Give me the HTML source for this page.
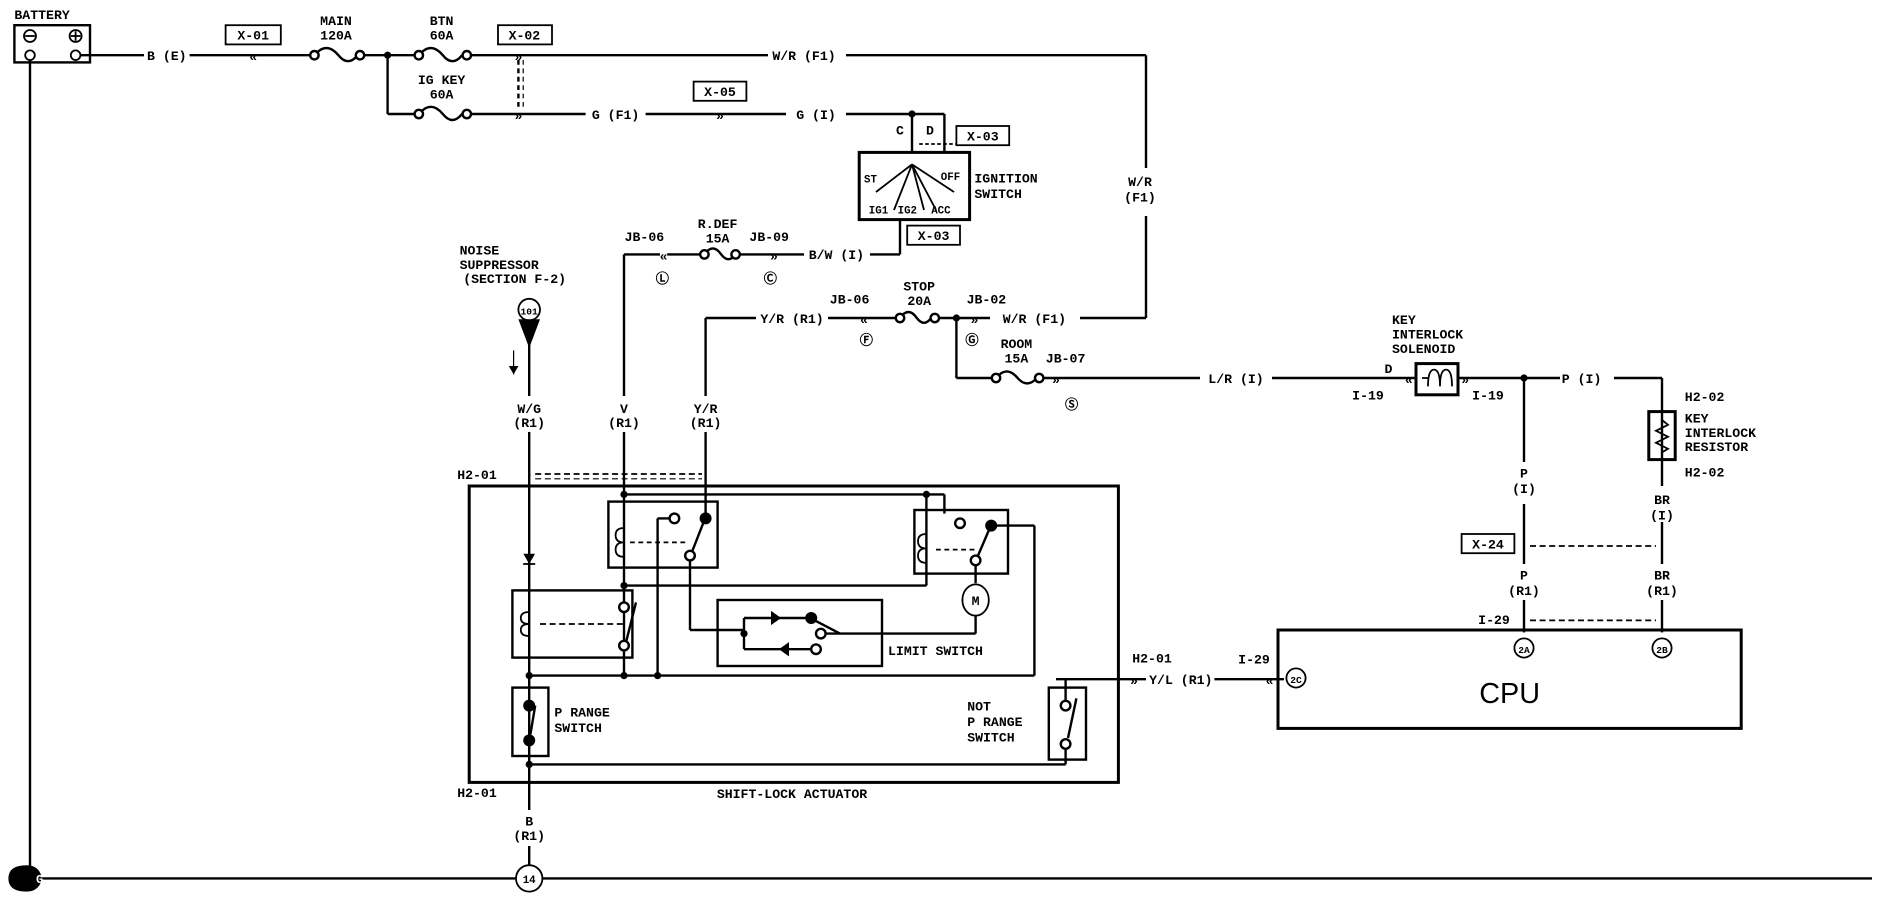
<!DOCTYPE html>
<html><head><meta charset="utf-8"><style>
html,body{margin:0;padding:0;background:#fff;}
svg{display:block;}
text{font-family:"Liberation Mono",monospace;font-size:11px;fill:#000;font-weight:bold;}
.c{text-anchor:middle;}
</style></head><body>
<svg width="1884" height="912" viewBox="0 0 1570 760" xmlns="http://www.w3.org/2000/svg">
<g stroke="#000" stroke-width="2" fill="none">
<rect x="12" y="21" width="63" height="31"/>
<circle cx="25" cy="30" r="5" stroke-width="1.5"/><circle cx="63" cy="30" r="5" stroke-width="1.5"/>
<circle cx="25" cy="46" r="4" stroke-width="1.5"/><circle cx="63" cy="46" r="4" stroke-width="1.5"/>
<line x1="21" y1="30" x2="29" y2="30" stroke-width="1.5"/><line x1="59" y1="30" x2="67" y2="30" stroke-width="1.5"/><line x1="63" y1="26" x2="63" y2="34" stroke-width="1.5"/>
<line x1="25" y1="50" x2="25" y2="732"/>
<line x1="25" y1="732" x2="1560" y2="732"/>
<polyline points="67,46 120,46"/><polyline points="158,46 258,46"/>
<path d="M258,46 m4,0 q10,-12 20,0 q8,10 16,0"/>
<circle cx="262" cy="46" r="3.5" fill="#fff"/><circle cx="300" cy="46" r="3.5" fill="#fff"/>
<line x1="304" y1="46" x2="345" y2="46"/>
<path d="M349,46 q10,-12 20,0 q8,10 16,0"/>
<circle cx="349" cy="46" r="3.5" fill="#fff"/><circle cx="389" cy="46" r="3.5" fill="#fff"/>
<line x1="393" y1="46" x2="640" y2="46"/><line x1="705" y1="46" x2="955" y2="46"/>
<line x1="955" y1="46" x2="955" y2="140"/><line x1="955" y1="180" x2="955" y2="265"/>
<line x1="323" y1="46" x2="323" y2="95"/><line x1="323" y1="95" x2="345" y2="95"/>
<path d="M349,95 q10,-12 20,0 q8,10 16,0"/>
<circle cx="349" cy="95" r="3.5" fill="#fff"/><circle cx="389" cy="95" r="3.5" fill="#fff"/>
<line x1="393" y1="95" x2="488" y2="95"/><line x1="538" y1="95" x2="655" y2="95"/><line x1="705" y1="95" x2="760" y2="95"/>
<line x1="432" y1="50" x2="432" y2="90" stroke-dasharray="4,3"/><line x1="436" y1="50" x2="436" y2="90" stroke-dasharray="4,3" stroke-width="1"/>
<rect x="188" y="21" width="46" height="16" stroke-width="1.5"/>
<rect x="415" y="21" width="45" height="16" stroke-width="1.5"/>
<rect x="578" y="68" width="44" height="16" stroke-width="1.5"/>
<rect x="797" y="105" width="44" height="16" stroke-width="1.5"/>
<rect x="756" y="188" width="44" height="16" stroke-width="1.5"/>
<rect x="1218" y="445" width="44" height="16" stroke-width="1.5"/>
<line x1="760" y1="95" x2="760" y2="127"/><line x1="760" y1="95" x2="787" y2="95"/><line x1="787" y1="95" x2="787" y2="127"/>
<line x1="766" y1="120" x2="797" y2="120" stroke-dasharray="3,2" stroke-width="1.5"/>
<rect x="716" y="127" width="92" height="56" stroke-width="2.5"/>
<path d="M760,137 L730,160 M760,137 L745,175 M760,137 L770,175 M760,137 L795,160 M760,137 L780,175" stroke-width="1.5"/>
<line x1="750" y1="183" x2="750" y2="212"/><line x1="520" y1="212" x2="550" y2="212"/>
<line x1="556" y1="212" x2="584" y2="212"/><path d="M587,212 q7,-10 14,0 q6,8 12,0"/>
<circle cx="587" cy="212" r="3.5" fill="#fff"/><circle cx="613" cy="212" r="3.5" fill="#fff"/>
<line x1="617" y1="212" x2="670" y2="212"/><line x1="725" y1="212" x2="750" y2="212"/>
<line x1="520" y1="212" x2="520" y2="330"/><line x1="520" y1="360" x2="520" y2="395"/>
<line x1="588" y1="265" x2="630" y2="265"/><line x1="588" y1="265" x2="588" y2="330"/><line x1="588" y1="360" x2="588" y2="395"/>
<line x1="690" y1="265" x2="747" y2="265"/><path d="M750,265 q7,-10 14,0 q6,8 12,0"/>
<circle cx="750" cy="265" r="3.5" fill="#fff"/><circle cx="779" cy="265" r="3.5" fill="#fff"/>
<line x1="783" y1="265" x2="825" y2="265"/><line x1="900" y1="265" x2="955" y2="265"/>
<line x1="797" y1="265" x2="797" y2="315"/><line x1="797" y1="315" x2="826" y2="315"/>
<path d="M830,315 q9,-11 18,0 q8,9 16,0"/><circle cx="830" cy="315" r="3.5" fill="#fff"/><circle cx="866" cy="315" r="3.5" fill="#fff"/>
<line x1="870" y1="315" x2="1000" y2="315"/><line x1="1060" y1="315" x2="1180" y2="315"/>
<rect x="1180" y="303" width="35" height="26" stroke-width="2.5"/>
<path d="M1185,315 L1190,315 M1190,322 q0,-14 5,-14 q5,0 5,14 M1200,322 q0,-14 5,-14 q5,0 5,14" stroke-width="1.5"/>
<line x1="1215" y1="315" x2="1300" y2="315"/><line x1="1345" y1="315" x2="1385" y2="315"/>
<line x1="1385" y1="315" x2="1385" y2="405"/><line x1="1385" y1="435" x2="1385" y2="470"/><line x1="1385" y1="500" x2="1385" y2="527"/>
<rect x="1374" y="343" width="22" height="40" stroke-width="2.5"/>
<path d="M1385,350 l5,4 l-10,5 l10,5 l-10,5 l10,5 l-5,3" stroke-width="1.5"/>
<line x1="1270" y1="315" x2="1270" y2="385"/><line x1="1270" y1="420" x2="1270" y2="470"/><line x1="1270" y1="500" x2="1270" y2="527"/>
<line x1="1275" y1="455" x2="1380" y2="455" stroke-dasharray="5,3" stroke-width="1.5"/>
<line x1="1275" y1="517" x2="1380" y2="517" stroke-dasharray="5,3" stroke-width="1.5"/>
<rect x="1065" y="525" width="386" height="82" stroke-width="2.5"/>
<circle cx="1270" cy="540" r="8" stroke-width="1.5" fill="#fff"/><circle cx="1385" cy="540" r="8" stroke-width="1.5" fill="#fff"/><circle cx="1080" cy="565" r="8" stroke-width="1.5" fill="#fff"/>
<line x1="880" y1="566" x2="955" y2="566"/><line x1="1012" y1="566" x2="1070" y2="566"/>
<circle cx="441" cy="258" r="9" stroke-width="1.5"/>
<line x1="441" y1="267" x2="441" y2="330"/><line x1="441" y1="360" x2="441" y2="397"/>
<line x1="428" y1="292" x2="428" y2="312" stroke-width="1"/>
<line x1="446" y1="395" x2="585" y2="395" stroke-dasharray="5,3" stroke-width="1.5"/>
<line x1="446" y1="399" x2="585" y2="399" stroke-dasharray="5,3" stroke-width="1"/>
<rect x="391" y="405" width="541" height="247" stroke-width="2.5"/>
<line x1="441" y1="395" x2="441" y2="675"/><line x1="441" y1="705" x2="441" y2="721"/>
<line x1="520" y1="395" x2="520" y2="563"/>
<line x1="588" y1="395" x2="588" y2="432"/>
<line x1="520" y1="412" x2="787" y2="412"/><line x1="787" y1="412" x2="787" y2="428"/>
<line x1="772" y1="412" x2="772" y2="488"/><line x1="520" y1="488" x2="772" y2="488"/>
<rect x="507" y="418" width="91" height="55" stroke-width="2"/>
<rect x="762" y="425" width="78" height="53" stroke-width="2"/>
<rect x="427" y="492" width="100" height="56" stroke-width="2"/>
<rect x="598" y="500" width="137" height="55" stroke-width="2"/>
<rect x="427" y="573" width="30" height="57" stroke-width="2"/>
<rect x="874" y="573" width="31" height="60" stroke-width="2"/>
<line x1="548" y1="432" x2="548" y2="563"/><line x1="548" y1="432" x2="558" y2="432"/>
<circle cx="562" cy="432" r="4" fill="#fff"/><circle cx="588" cy="432" r="4" fill="#000"/><circle cx="575" cy="463" r="4" fill="#fff"/>
<line x1="586" y1="436" x2="577" y2="459"/>
<line x1="575" y1="467" x2="575" y2="525"/><line x1="575" y1="525" x2="620" y2="525"/>
<line x1="525" y1="452" x2="572" y2="452" stroke-dasharray="4,3" stroke-width="1.5"/>
<path d="M520,440 q-7,0 -7,6 q0,6 7,6 q-7,0 -7,6 q0,6 7,6" stroke-width="1.5"/>
<circle cx="800" cy="436" r="4" fill="#fff"/><circle cx="826" cy="438" r="4" fill="#000"/><circle cx="813" cy="467" r="4" fill="#fff"/>
<line x1="824" y1="442" x2="815" y2="463"/><line x1="830" y1="438" x2="862" y2="438"/><line x1="862" y1="438" x2="862" y2="563"/>
<line x1="780" y1="458" x2="812" y2="458" stroke-dasharray="4,3" stroke-width="1.5"/>
<path d="M772,445 q-7,0 -7,6 q0,6 7,6 q-7,0 -7,6 q0,6 7,6" stroke-width="1.5"/>
<line x1="813" y1="471" x2="813" y2="486"/><ellipse cx="813" cy="500" rx="11" ry="13" stroke-width="1.5"/><line x1="813" y1="513" x2="813" y2="528"/>
<line x1="684" y1="528" x2="813" y2="528"/>
<line x1="620" y1="515" x2="620" y2="541"/><line x1="620" y1="515" x2="676" y2="515"/><line x1="620" y1="541" x2="676" y2="541"/>
<circle cx="676" cy="515" r="4" fill="#000"/><circle cx="680" cy="541" r="4" fill="#fff"/><circle cx="684" cy="528" r="4" fill="#fff"/>
<line x1="679" y1="517" x2="700" y2="528"/>
<path d="M643,510 l7,5 l-7,5 z M657,536 l-7,5 l7,5 z" fill="#000" stroke-width="1"/>
<circle cx="520" cy="506" r="4" fill="#fff"/><circle cx="520" cy="538" r="4" fill="#fff"/><line x1="530" y1="502" x2="522" y2="534"/>
<line x1="450" y1="520" x2="520" y2="520" stroke-dasharray="5,3" stroke-width="1.5"/>
<path d="M441,510 q-7,0 -7,5 q0,5 7,5 q-7,0 -7,5 q0,5 7,5" stroke-width="1.5"/>
<path d="M437,462 l8,0 l-4,7 z" fill="#000" stroke-width="1"/><line x1="436" y1="470" x2="446" y2="470" stroke-width="1.5"/>
<line x1="441" y1="563" x2="862" y2="563"/>
<circle cx="441" cy="588" r="4" fill="#000"/><circle cx="441" cy="617" r="4" fill="#000"/><line x1="446" y1="588" x2="442" y2="612"/>
<circle cx="888" cy="588" r="4" fill="#fff"/><circle cx="888" cy="620" r="4" fill="#fff"/><line x1="897" y1="582" x2="890" y2="615"/>
<line x1="888" y1="566" x2="888" y2="584"/><line x1="888" y1="624" x2="888" y2="637"/><line x1="441" y1="637" x2="888" y2="637"/>
<circle cx="441" cy="732" r="11" fill="#fff" stroke-width="1.5"/>
<path d="M8,732 q0,-10 14,-10 q10,0 12,10 q-2,10 -12,10 q-14,0 -14,-10z" fill="#000"/>
</g>
<g fill="#000">
<circle cx="323" cy="46" r="3"/><circle cx="760" cy="95" r="3"/><circle cx="797" cy="265" r="3"/><circle cx="1270" cy="315" r="3"/>
<circle cx="520" cy="412" r="3"/><circle cx="520" cy="488" r="3"/><circle cx="772" cy="412" r="3"/><circle cx="441" cy="563" r="3"/><circle cx="520" cy="563" r="3"/><circle cx="548" cy="563" r="3"/><circle cx="441" cy="637" r="3"/><circle cx="620" cy="528" r="3"/>
<path d="M432,266 l18,0 l-9,24 z"/>
<path d="M424,305 l8,0 l-4,7 z"/>
</g>
<g>
<text x="12" y="16">BATTERY</text>
<text x="139" y="50" class="c">B (E)</text>
<text x="211" y="33" class="c">X-01</text><text x="211" y="51" class="c">«</text>
<text x="280" y="21" class="c">MAIN</text><text x="280" y="33" class="c">120A</text>
<text x="368" y="21" class="c">BTN</text><text x="368" y="33" class="c">60A</text>
<text x="437" y="33" class="c">X-02</text><text x="432" y="51" class="c">»</text><text x="432" y="100" class="c">»</text>
<text x="368" y="70" class="c">IG KEY</text><text x="368" y="82" class="c">60A</text>
<text x="670" y="50" class="c">W/R (F1)</text>
<text x="513" y="99" class="c">G (F1)</text><text x="600" y="80" class="c">X-05</text><text x="600" y="100" class="c">»</text><text x="680" y="99" class="c">G (I)</text>
<text x="750" y="112" class="c">C</text><text x="775" y="112" class="c">D</text><text x="819" y="117" class="c">X-03</text>
<text x="812" y="152">IGNITION</text><text x="812" y="165">SWITCH</text>
<text x="720" y="152" style="font-size:9px">ST</text><text x="784" y="150" style="font-size:9px">OFF</text><text x="724" y="178" style="font-size:9px">IG1</text><text x="748" y="178" style="font-size:9px">IG2</text><text x="776" y="178" style="font-size:9px">ACC</text>
<text x="778" y="200" class="c">X-03</text>
<text x="950" y="155" class="c">W/R</text><text x="950" y="168" class="c">(F1)</text>
<text x="537" y="201" class="c">JB-06</text><text x="553" y="217" class="c">«</text>
<text x="598" y="190" class="c">R.DEF</text><text x="598" y="202" class="c">15A</text>
<text x="641" y="201" class="c">JB-09</text><text x="645" y="217" class="c">»</text>
<text x="697" y="216" class="c">B/W (I)</text>
<text x="552" y="236" class="c">Ⓛ</text><text x="642" y="236" class="c">Ⓒ</text>
<text x="383" y="212">NOISE</text><text x="383" y="224">SUPPRESSOR</text><text x="386" y="236">(SECTION F-2)</text>
<text x="441" y="262" class="c" style="font-size:8px">101</text>
<text x="660" y="269" class="c">Y/R (R1)</text><text x="720" y="270" class="c">«</text>
<text x="708" y="253" class="c">JB-06</text><text x="722" y="287" class="c">Ⓕ</text>
<text x="766" y="242" class="c">STOP</text><text x="766" y="254" class="c">20A</text>
<text x="812" y="270" class="c">»</text><text x="822" y="253" class="c">JB-02</text><text x="810" y="287" class="c">Ⓖ</text>
<text x="862" y="269" class="c">W/R (F1)</text>
<text x="847" y="290" class="c">ROOM</text><text x="847" y="302" class="c">15A</text>
<text x="888" y="302" class="c">JB-07</text><text x="880" y="320" class="c">»</text><text x="893" y="341" class="c">Ⓢ</text>
<text x="1030" y="319" class="c">L/R (I)</text>
<text x="1160" y="270">KEY</text><text x="1160" y="282">INTERLOCK</text><text x="1160" y="294">SOLENOID</text>
<text x="1157" y="311" class="c">D</text><text x="1140" y="333" class="c">I-19</text><text x="1240" y="333" class="c">I-19</text>
<text x="1174" y="320" class="c">«</text><text x="1221" y="320" class="c">»</text>
<text x="1318" y="319" class="c">P (I)</text>
<text x="1404" y="334">H2-02</text><text x="1404" y="352">KEY</text><text x="1404" y="364">INTERLOCK</text><text x="1404" y="376">RESISTOR</text><text x="1404" y="397">H2-02</text>
<text x="1270" y="398" class="c">P</text><text x="1270" y="411" class="c">(I)</text>
<text x="1385" y="420" class="c">BR</text><text x="1385" y="433" class="c">(I)</text>
<text x="1240" y="457" class="c">X-24</text>
<text x="1270" y="483" class="c">P</text><text x="1270" y="496" class="c">(R1)</text>
<text x="1385" y="483" class="c">BR</text><text x="1385" y="496" class="c">(R1)</text>
<text x="1245" y="520" class="c">I-29</text>
<text x="1270" y="544" class="c" style="font-size:8px">2A</text><text x="1385" y="544" class="c" style="font-size:8px">2B</text><text x="1080" y="569" class="c" style="font-size:8px">2C</text>
<text x="1258" y="586" class="c" style="font-family:'Liberation Sans',sans-serif;font-size:24px;font-weight:normal">CPU</text>
<text x="1045" y="553" class="c">I-29</text><text x="1058" y="571" class="c">«</text>
<text x="984" y="570" class="c">Y/L (R1)</text><text x="960" y="552" class="c">H2-01</text><text x="945" y="571" class="c">»</text>
<text x="441" y="344" class="c">W/G</text><text x="441" y="356" class="c">(R1)</text>
<text x="520" y="344" class="c">V</text><text x="520" y="356" class="c">(R1)</text>
<text x="588" y="344" class="c">Y/R</text><text x="588" y="356" class="c">(R1)</text>
<text x="381" y="399">H2-01</text>
<text x="462" y="597">P RANGE</text><text x="462" y="610">SWITCH</text>
<text x="740" y="546">LIMIT SWITCH</text>
<text x="813" y="504" class="c">M</text>
<text x="806" y="592">NOT</text><text x="806" y="605">P RANGE</text><text x="806" y="618">SWITCH</text>
<text x="660" y="665" class="c">SHIFT-LOCK ACTUATOR</text>
<text x="381" y="664">H2-01</text>
<text x="441" y="688" class="c">B</text><text x="441" y="700" class="c">(R1)</text>
<text x="441" y="736" class="c" style="font-size:9px">14</text>
<text x="30" y="736" style="fill:#fff;font-size:10px">G</text>
</g>
</svg>
</body></html>
